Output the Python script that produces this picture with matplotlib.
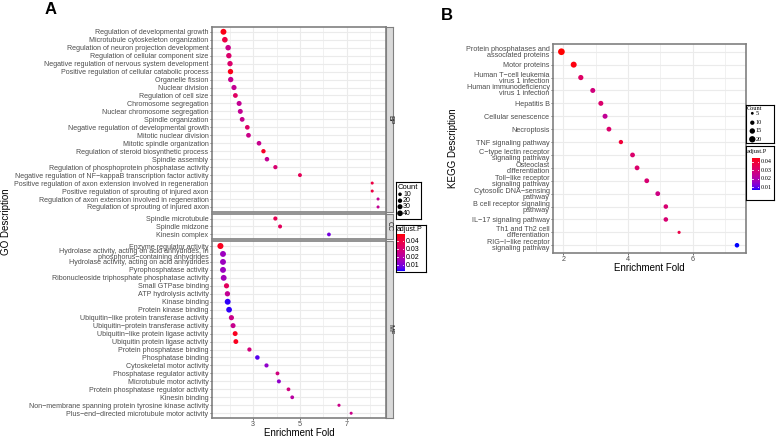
import numpy as np
import matplotlib.pyplot as plt
from matplotlib.colors import ListedColormap, Normalize
from matplotlib.transforms import blended_transform_factory

# ---------------- panel A : GO enrichment ----------------
bp_terms = ["Regulation of developmental growth", "Microtubule cytoskeleton organization",
            "Regulation of neuron projection development", "Regulation of cellular component size",
            "Negative regulation of nervous system development", "Positive regulation of cellular catabolic process",
            "Organelle fission", "Nuclear division", "Regulation of cell size", "Chromosome segregation",
            "Nuclear chromosome segregation", "Spindle organization", "Negative regulation of developmental growth",
            "Mitotic nuclear division", "Mitotic spindle organization", "Regulation of steroid biosynthetic process",
            "Spindle assembly", "Regulation of phosphoprotein phosphatase activity",
            "Negative regulation of NF−kappaB transcription factor activity",
            "Positive regulation of axon extension involved in regeneration",
            "Positive regulation of sprouting of injured axon",
            "Regulation of axon extension involved in regeneration", "Regulation of sprouting of injured axon"]
bp_fold = [1.73, 1.79, 1.93, 1.96, 2.01, 2.03, 2.04, 2.18, 2.24, 2.40, 2.45, 2.53, 2.75, 2.80, 3.25,
           3.44, 3.59, 3.95, 5.00, 8.09, 8.09, 8.34, 8.34]
bp_count = [45, 40, 38, 36, 35, 35, 35, 32, 26, 30, 29, 26, 24, 25, 24, 20, 22, 18, 14, 4, 4, 4, 4]
bp_padj = [0.047, 0.040, 0.026, 0.032, 0.032, 0.047, 0.025, 0.024, 0.034, 0.024, 0.024, 0.025, 0.033,
           0.026, 0.025, 0.045, 0.024, 0.031, 0.036, 0.040, 0.040, 0.024, 0.024]

cc_terms = ["Spindle microtubule", "Spindle midzone", "Kinesin complex"]
cc_fold = [3.95, 4.15, 6.24]
cc_count = [17, 15, 12]
cc_padj = [0.037, 0.035, 0.009]

mf_terms = ["Enzyme regulator activity",
            "Hydrolase activity, acting on acid anhydrides, in\nphosphorus−containing anhydrides",
            "Hydrolase activity, acting on acid anhydrides", "Pyrophosphatase activity",
            "Ribonucleoside triphosphate phosphatase activity", "Small GTPase binding", "ATP hydrolysis activity",
            "Kinase binding", "Protein kinase binding", "Ubiquitin−like protein transferase activity",
            "Ubiquitin−protein transferase activity", "Ubiquitin−like protein ligase activity",
            "Ubiquitin protein ligase activity", "Protein phosphatase binding", "Phosphatase binding",
            "Cytoskeletal motor activity", "Phosphatase regulator activity", "Microtubule motor activity",
            "Protein phosphatase regulator activity", "Kinesin binding",
            "Non−membrane spanning protein tyrosine kinase activity",
            "Plus−end−directed microtubule motor activity"]
mf_fold = [1.60, 1.71, 1.71, 1.71, 1.74, 1.86, 1.90, 1.91, 1.97, 2.07, 2.14, 2.23, 2.26, 2.84, 3.18,
           3.57, 4.04, 4.10, 4.51, 4.67, 6.67, 7.19]
mf_count = [48, 45, 45, 45, 44, 32, 34, 45, 42, 32, 30, 28, 27, 18, 22, 17, 13, 15, 12, 12, 5, 4]
mf_padj = [0.046, 0.015, 0.015, 0.015, 0.016, 0.035, 0.024, 0.004, 0.004, 0.026, 0.025, 0.046, 0.046,
           0.029, 0.006, 0.013, 0.028, 0.013, 0.028, 0.021, 0.026, 0.026]

# ---------------- panel B : KEGG enrichment ----------------
kegg_terms = ["Protein phosphatases and\nassociated proteins", "Motor proteins",
              "Human T−cell leukemia\nvirus 1 infection", "Human immunodeficiency\nvirus 1 infection",
              "Hepatitis B", "Cellular senescence", "Necroptosis", "TNF signaling pathway",
              "C−type lectin receptor\nsignaling pathway", "Osteoclast\ndifferentiation",
              "Toll−like receptor\nsignaling pathway", "Cytosolic DNA−sensing\npathway",
              "B cell receptor signaling\npathway", "IL−17 signaling pathway",
              "Th1 and Th2 cell\ndifferentiation", "RIG−I−like receptor\nsignaling pathway"]
kegg_fold = [1.94, 2.32, 2.54, 2.91, 3.16, 3.29, 3.41, 3.78, 4.14, 4.28, 4.58, 4.92, 5.17, 5.17, 5.58, 7.37]
kegg_count = [22, 18, 14, 13, 13, 13, 12, 10, 12, 12, 12, 12, 11, 11, 6, 11]
kegg_padj = [0.045, 0.044, 0.032, 0.028, 0.031, 0.024, 0.031, 0.039, 0.031, 0.031, 0.030, 0.027,
             0.030, 0.030, 0.037, 0.007]

count_breaks_a = [10, 20, 30, 40]
count_breaks_b = [5, 10, 15, 20]
p_breaks = [0.04, 0.03, 0.02, 0.01]

W, H, DPI = 778, 440, 100
plt.rcParams['font.family'] = ['Liberation Sans', 'DejaVu Sans']
TXT = '#4d4d4d'
GRID = '#ebebeb'
BORDER = '#808080'


def lab_cmap(c0, c1, n=256):
    # blue -> red gradient interpolated in CIELAB, like ggplot's scale_colour_gradient
    M = np.array([[0.4124, 0.3576, 0.1805], [0.2126, 0.7152, 0.0722], [0.0193, 0.1192, 0.9505]])
    wp = np.array([0.95047, 1.0, 1.08883])
    eps, kap = 216 / 24389, 24389 / 27

    def to_lab(rgb):
        rgb = np.asarray(rgb, float)
        lin = np.where(rgb <= 0.04045, rgb / 12.92, ((rgb + 0.055) / 1.055) ** 2.4)
        xyz = M @ lin / wp
        f = np.where(xyz > eps, np.cbrt(xyz), (kap * xyz + 16) / 116)
        return np.array([116 * f[1] - 16, 500 * (f[0] - f[1]), 200 * (f[1] - f[2])])

    def from_lab(lab):
        fy = (lab[0] + 16) / 116
        f = np.array([fy + lab[1] / 500, fy, fy - lab[2] / 200])
        xyz = np.where(f ** 3 > eps, f ** 3, (116 * f - 16) / kap) * wp
        lin = np.linalg.solve(M, xyz)
        lin = np.clip(lin, 0, 1)
        return np.where(lin <= 0.0031308, 12.92 * lin, 1.055 * lin ** (1 / 2.4) - 0.055)

    l0, l1 = to_lab(c0), to_lab(c1)
    cols = [np.clip(from_lab(l0 + (l1 - l0) * t), 0, 1) for t in np.linspace(0, 1, n)]
    return ListedColormap(cols)


cmap = lab_cmap((0, 0, 1), (1, 0, 0))
norm_a = Normalize(0.003, 0.049)
norm_b = Normalize(0.007, 0.045)


def size_a(c):
    return (4.67 + 0.433 * np.asarray(c, float)) * 0.75


def size_b(c):
    return np.maximum(-2.1 + 1.5 * np.asarray(c, float), 1.5) * 0.75


fig = plt.figure(figsize=(W / DPI, H / DPI), dpi=DPI)


def px_axes(x0, y0, x1, y1):
    return fig.add_axes([x0 / W, 1 - y1 / H, (x1 - x0) / W, (y1 - y0) / H])


def dot_panel(ax, terms, fold, count, padj, xlim, major, minor, size_fn, norm, fs, ls, xlabels=True):
    n = len(terms)
    y = np.arange(n)
    ax.set_xlim(xlim)
    ax.set_ylim(n - 0.4, -0.6)
    ax.set_xticks(major)
    ax.set_xticks(minor, minor=True)
    ax.set_yticks(y)
    ax.set_yticklabels(terms, fontsize=fs, color=TXT, linespacing=ls)
    ax.grid(True, which='major', color=GRID, lw=0.8)
    ax.grid(True, which='minor', axis='x', color=GRID, lw=0.5)
    ax.set_axisbelow(True)
    ax.scatter(fold, y, s=size_fn(count), c=padj, cmap=cmap, norm=norm, edgecolors='none', zorder=3)
    for sp in ax.spines.values():
        sp.set_color(BORDER)
        sp.set_linewidth(1.2)
    ax.tick_params(axis='both', which='major', length=1.5, width=0.5, color='#333333', pad=1,
                   labelsize=fs, labelcolor=TXT)
    ax.tick_params(axis='x', which='minor', length=0)
    ax.tick_params(axis='x', labelsize=5.2)
    if not xlabels:
        ax.tick_params(axis='x', bottom=False, labelbottom=False)


def strip(y0, y1, label):
    s = px_axes(386, y0, 393, y1)
    s.set_facecolor('#d9d9d9')
    s.set_xticks([])
    s.set_yticks([])
    for sp in s.spines.values():
        sp.set_color(BORDER)
        sp.set_linewidth(0.8)
    s.text(0.5, 0.5, label, rotation=-90, ha='center', va='center', fontsize=5, color='#1a1a1a',
           transform=s.transAxes)


def count_legend(box, breaks, ys, xdot, xlab, size_fn, title_y, fs_title, fs_lab, family):
    x0, y0, x1, y1 = box
    lg = px_axes(x0, y0, x1, y1)
    lg.set_xlim(x0, x1)
    lg.set_ylim(y1, y0)
    lg.set_xticks([])
    lg.set_yticks([])
    for sp in lg.spines.values():
        sp.set_color('black')
        sp.set_linewidth(0.8)
    lg.text(x0 + 1.5, title_y, "Count", fontsize=fs_title, va='center', ha='left', family=family)
    lg.scatter([xdot] * len(breaks), ys, s=size_fn(breaks), c='black', edgecolors='none')
    for b, yy in zip(breaks, ys):
        lg.text(xlab, yy, str(b), fontsize=fs_lab, va='center', ha='left', family=family)


def p_legend(box, bar, title_y, xlab, norm, fs_title, fs_lab, family):
    x0, y0, x1, y1 = box
    lg = px_axes(x0, y0, x1, y1)
    lg.set_xlim(x0, x1)
    lg.set_ylim(y1, y0)
    lg.set_xticks([])
    lg.set_yticks([])
    for sp in lg.spines.values():
        sp.set_color('black')
        sp.set_linewidth(0.8)
    lg.text(x0 + 1, title_y, "adjust.P", fontsize=fs_title, va='center', ha='left', family=family)
    cb = px_axes(*bar)
    grad = np.linspace(norm.vmin, norm.vmax, 200)[:, None]
    cb.imshow(grad, extent=[0, 1, norm.vmin, norm.vmax], origin='lower', aspect='auto', cmap=cmap, norm=norm)
    cb.set_xlim(0, 1)
    cb.set_ylim(norm.vmin, norm.vmax)
    cb.axis('off')
    tr = blended_transform_factory(cb.transAxes, cb.transData)
    for p in p_breaks:
        cb.plot([0, 0.2], [p, p], color='white', lw=0.6, transform=tr)
        cb.plot([0.8, 1], [p, p], color='white', lw=0.6, transform=tr)
        lg.text(xlab, (norm.vmax - p) / (norm.vmax - norm.vmin) * (bar[3] - bar[1]) + bar[1], f"{p:.2f}",
                fontsize=fs_lab, va='center', ha='left', family=family)


# ---- panel A layout (free y space per facet) ----
top, bottom, gap = 27, 418, 2
units = [len(bp_terms) + 0.2, len(cc_terms) + 0.2, len(mf_terms) + 0.2]
unit_px = (bottom - top - 2 * gap) / sum(units)
yb0 = top
yb1 = yb0 + units[0] * unit_px
yc0 = yb1 + gap
yc1 = yc0 + units[1] * unit_px
ym0 = yc1 + gap
ym1 = bottom

xlim_a = (1.24, 8.68)
ax_bp = px_axes(212, yb0, 386, yb1)
dot_panel(ax_bp, bp_terms, bp_fold, bp_count, bp_padj, xlim_a, [3, 5, 7], [2, 4, 6, 8], size_a, norm_a, 5.1,
          0.72, xlabels=False)
ax_cc = px_axes(212, yc0, 386, yc1)
dot_panel(ax_cc, cc_terms, cc_fold, cc_count, cc_padj, xlim_a, [3, 5, 7], [2, 4, 6, 8], size_a, norm_a, 5.1,
          0.72, xlabels=False)
ax_mf = px_axes(212, ym0, 386, ym1)
dot_panel(ax_mf, mf_terms, mf_fold, mf_count, mf_padj, xlim_a, [3, 5, 7], [2, 4, 6, 8], size_a, norm_a, 5.1,
          0.72)
strip(yb0, yb1, "BP")
strip(yc0, yc1, "CC")
strip(ym0, ym1, "MF")

fig.text(299 / W, 1 - 433 / H, "Enrichment Fold", ha='center', va='center', fontsize=7)
fig.text(6 / W, 1 - 222 / H, "GO Description", ha='center', va='center', fontsize=7, rotation=90)
fig.text(45 / W, 1 - 10 / H, "A", ha='left', va='center', fontsize=12, fontweight='bold')

count_legend((396, 182, 421, 219), count_breaks_a, [194.3, 200.7, 206.7, 213.3], 400, 403, size_a, 187,
             5.5, 5, 'Liberation Sans')
p_legend((396, 225, 426, 272), (396.7, 234.3, 404, 270.7), 229.5, 406, norm_a, 5, 5, 'Liberation Sans')

# ---- panel B ----
ax_k = px_axes(553, 44, 745.7, 253)
dot_panel(ax_k, kegg_terms, kegg_fold, kegg_count, kegg_padj, (1.68, 7.64), [2, 4, 6], [3, 5, 7], size_b,
          norm_b, 5.2, 0.8)
fig.text(649.5 / W, 1 - 268 / H, "Enrichment Fold", ha='center', va='center', fontsize=7)
fig.text(453.5 / W, 1 - 148.5 / H, "KEGG Description", ha='center', va='center', fontsize=7, rotation=90)
fig.text(441 / W, 1 - 16 / H, "B", ha='left', va='center', fontsize=12, fontweight='bold')

count_legend((745.7, 105, 774, 143.3), count_breaks_b, [113.3, 122.7, 131, 139.3], 752.3, 755.5, size_b, 108.5,
             4.5, 4.5, 'Liberation Serif')
p_legend((745.7, 145.7, 774, 200), (751.7, 157.7, 759, 190), 151, 761, norm_b, 4.5, 4.5, 'Liberation Serif')

fig.savefig("out.png", dpi=DPI)
